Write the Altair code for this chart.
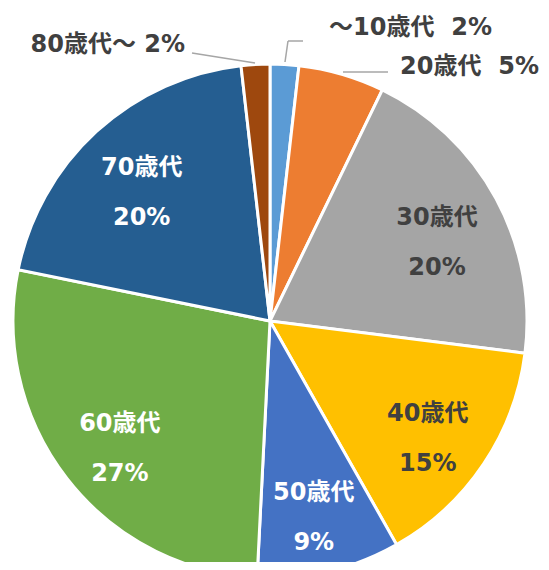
import altair as alt
import pandas as pd

# ---- data ----
ages = ["～10歳代", "20歳代", "30歳代", "40歳代", "50歳代", "60歳代", "70歳代", "80歳代～"]
shares = [1.8, 5.4, 19.8, 14.8, 9.0, 27.4, 20.0, 1.8]
pct_labels = ["2%", "5%", "20%", "15%", "9%", "27%", "20%", "2%"]
colors = ["#5B9BD5", "#ED7D31", "#A5A5A5", "#FFC000", "#4472C4", "#70AD47", "#255E91", "#9E480E"]
inside = ["30歳代", "40歳代", "50歳代", "60歳代", "70歳代"]
dark = ["50歳代", "60歳代", "70歳代"]

df = pd.DataFrame({
    "age": ages,
    "share": shares,
    "pct": pct_labels,
    "idx": list(range(len(ages))),
})
df["label"] = [
    (a + "\n" + p) if a in inside else "" for a, p in zip(ages, pct_labels)
]

CX, CY, R = 262, 313, 257
FONT = "DejaVu Sans, Noto Sans CJK JP"
FS = 24

base = alt.Chart(df).encode(
    theta=alt.Theta("share:Q", stack=True),
    order=alt.Order("idx:Q"),
)

pie = base.mark_arc(radius=R, stroke="white", strokeWidth=3).encode(
    x=alt.value(CX),
    y=alt.value(CY),
    color=alt.Color("age:N", scale=alt.Scale(domain=ages, range=colors), legend=None),
)

inner = base.mark_text(
    radius=190, font=FONT, fontSize=FS, fontWeight="bold", dy=-13,
    lineBreak="\n", lineHeight=50, align="center", baseline="middle",
).encode(
    x=alt.value(CX),
    y=alt.value(CY),
    text="label:N",
    color=alt.condition(
        alt.FieldOneOfPredicate(field="age", oneOf=dark),
        alt.value("white"), alt.value("#404040"),
    ),
)

# outside labels (manually placed, as in the reference)
GAP = "\u2002\u2009"
out_text = [
    (ages[0] + GAP + pct_labels[0], 321, 20, "left"),
    (ages[1] + GAP + pct_labels[1], 392, 59, "left"),
    (ages[7] + " " + pct_labels[7], 177, 37, "right"),
]
layers = [pie, inner]
for txt, tx, ty, al in out_text:
    layers.append(
        alt.Chart(pd.DataFrame({"t": [txt]})).mark_text(
            font=FONT, fontSize=FS, fontWeight="bold", color="#404040",
            align=al, baseline="middle",
        ).encode(text="t:N", x=alt.value(tx), y=alt.value(ty))
    )

leaders = [
    ((277, 54), (280, 33)),
    ((280, 33), (295, 33)),
    ((335, 64), (380, 64)),
    ((184, 45), (247, 55)),
]
for (x1, y1), (x2, y2) in leaders:
    layers.append(
        alt.Chart(pd.DataFrame({"a": [0]})).mark_rule(color="#A6A6A6", strokeWidth=1.5).encode(
            x=alt.value(x1), y=alt.value(y1), x2=alt.value(x2), y2=alt.value(y2)
        )
    )

chart = alt.layer(*layers).properties(
    width=533, height=554, autosize=alt.AutoSizeParams(type="none"), padding=0,
).configure_view(stroke=None)

chart.save("out.html", embed_options={"renderer": "svg", "actions": False})
